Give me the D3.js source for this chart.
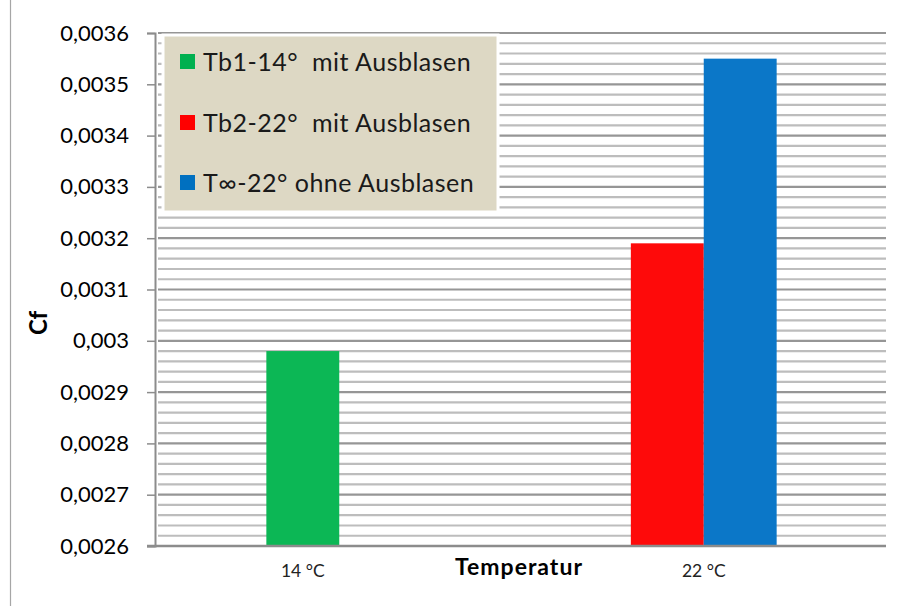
<!DOCTYPE html>
<html>
<head>
<meta charset="utf-8">
<script src="https://cdn.jsdelivr.net/npm/d3@7/dist/d3.min.js"></script>
<style>
  html, body { margin: 0; padding: 0; background: #ffffff; }
  svg { display: block; font-family: Lato, "Open Sans", sans-serif; }
  svg text { font-family: Lato, "Open Sans", sans-serif; }
  .legend-label { white-space: pre; }
</style>
</head>
<body>
<svg id="chart" width="908" height="606"></svg>
<script>
// Categories on the x axis
const categories = ["14 °C", "22 °C"];

// Series names shown in the legend
const seriesNames = ["Tb1-14°  mit Ausblasen", "Tb2-22°  mit Ausblasen", "T∞-22° ohne Ausblasen"];
const seriesColors = ["#0cb755", "#fe0a0a", "#0b77c8"];
const legendColors = ["#00b050", "#ff0000", "#0070c0"];

// Values per category (null = no bar)
const tb1Values = [0.00298, null];
const tb2Values = [null, 0.00319];
const tInfValues = [null, 0.00355];

// Slot of each series inside a category (with / without blowing)
const seriesSlots = ["mit", "mit", "ohne"];
const slots = ["mit", "ohne"];

// Value axis ticks
const yTicks = [0.0026, 0.0027, 0.0028, 0.0029, 0.003, 0.0031, 0.0032, 0.0033, 0.0034, 0.0035, 0.0036];
const yTickLabels = ["0,0026", "0,0027", "0,0028", "0,0029", "0,003", "0,0031", "0,0032", "0,0033", "0,0034", "0,0035", "0,0036"];
const minorStep = 0.00002;

const allSeries = [tb1Values, tb2Values, tInfValues];

const svg = d3.select("#chart");

// Outer chart frame
svg.append("rect")
  .attr("x", 10.5).attr("y", -2)
  .attr("width", 905).attr("height", 612)
  .attr("fill", "none").attr("stroke", "#a6a6a6").attr("stroke-width", 1.2);

const plot = { left: 157, right: 886, top: 33, bottom: 546 };

const y = d3.scaleLinear()
  .domain([yTicks[0], yTicks[yTicks.length - 1]])
  .range([plot.bottom, plot.top]);

const x = d3.scaleBand()
  .domain(categories)
  .range([plot.left, plot.right])
  .paddingInner(0).paddingOuter(0);

const xSlot = d3.scaleBand()
  .domain(slots)
  .range([0, x.bandwidth()])
  .paddingInner(0).paddingOuter(1.5);

// Gridlines: minor first, then major on top
const minorVals = d3.range(yTicks[0], yTicks[yTicks.length - 1] + minorStep / 2, minorStep)
  .filter(v => !yTicks.some(t => Math.abs(t - v) < 1e-9));

const grid = svg.append("g");
grid.selectAll("line.minor").data(minorVals).join("line")
  .attr("class", "minor")
  .attr("x1", plot.left + 1).attr("x2", plot.right)
  .attr("y1", d => y(d)).attr("y2", d => y(d))
  .attr("stroke", "#bdbdbd").attr("stroke-width", 2.2);
grid.selectAll("line.major").data(yTicks).join("line")
  .attr("class", "major")
  .attr("x1", plot.left + 1).attr("x2", plot.right)
  .attr("y1", d => y(d)).attr("y2", d => y(d))
  .attr("stroke", "#969696").attr("stroke-width", 2.2);

// Bars
const barData = [];
allSeries.forEach((vals, si) => {
  vals.forEach((v, ci) => {
    if (v != null) barData.push({ series: si, cat: categories[ci], value: v });
  });
});

svg.append("g").selectAll("rect").data(barData).join("rect")
  .attr("x", d => x(d.cat) + xSlot(seriesSlots[d.series]))
  .attr("width", xSlot.bandwidth())
  .attr("y", d => y(d.value))
  .attr("height", d => y(yTicks[0]) - y(d.value))
  .attr("fill", d => seriesColors[d.series]);

// Value axis
const yAxis = d3.axisLeft(y)
  .tickValues(yTicks)
  .tickFormat((d, i) => yTickLabels[i])
  .tickSize(8)
  .tickPadding(18);

const yAxisG = svg.append("g")
  .attr("transform", `translate(${plot.left - 2},0)`)
  .call(yAxis)
  .attr("font-family", null)
  .attr("font-size", null);
yAxisG.select(".domain").attr("stroke", "#8c8c8c").attr("stroke-width", 2);
yAxisG.selectAll(".tick line").attr("stroke", "#8c8c8c").attr("stroke-width", 1.5);
yAxisG.selectAll(".tick text")
  .attr("fill", "#000").attr("font-size", 22);

// Base line
svg.append("line")
  .attr("x1", plot.left - 10).attr("x2", plot.right)
  .attr("y1", y(yTicks[0])).attr("y2", y(yTicks[0]))
  .attr("stroke", "#8c8c8c").attr("stroke-width", 2.4);

// Category labels, centred under the bars present in each category
const catCenters = categories.map((c, ci) => {
  const centers = [];
  allSeries.forEach((vals, si) => {
    if (vals[ci] != null) centers.push(x(c) + xSlot(seriesSlots[si]) + xSlot.bandwidth() / 2);
  });
  return d3.mean(centers);
});

svg.append("g").selectAll("text").data(categories).join("text")
  .attr("x", (d, i) => catCenters[i])
  .attr("y", 577)
  .attr("text-anchor", "middle")
  .attr("font-size", 17.5)
  .attr("fill", "#222")
  .text(d => d);

// Axis titles
svg.append("text")
  .attr("x", 519).attr("y", 575)
  .attr("text-anchor", "middle")
  .attr("font-size", 23).attr("font-weight", "bold")
  .attr("letter-spacing", 1)
  .attr("fill", "#000")
  .text("Temperatur");

svg.append("text")
  .attr("transform", "translate(47,323) rotate(-90)")
  .attr("text-anchor", "middle")
  .attr("font-size", 24).attr("font-weight", "bold")
  .attr("fill", "#000")
  .text("Cf");

// Legend
const legend = svg.append("g");
legend.append("rect")
  .attr("x", 163).attr("y", 35)
  .attr("width", 335).attr("height", 177)
  .attr("fill", "#ddd8c4")
  .attr("stroke", "#ffffff").attr("stroke-width", 3);

const legendRows = [62, 123, 183];
const items = legend.selectAll("g.item").data(seriesNames).join("g")
  .attr("class", "item")
  .attr("transform", (d, i) => `translate(180,${legendRows[i]})`);
items.append("rect")
  .attr("x", 0).attr("y", -8)
  .attr("width", 15).attr("height", 15)
  .attr("fill", (d, i) => legendColors[i]);
items.append("text")
  .attr("class", "legend-label")
  .attr("x", 23).attr("y", 0)
  .attr("dy", "0.35em")
  .attr("font-size", 25)
  .attr("letter-spacing", 0.5)
  .attr("fill", "#1a1a1a")
  .text(d => d);
</script>
</body>
</html>
